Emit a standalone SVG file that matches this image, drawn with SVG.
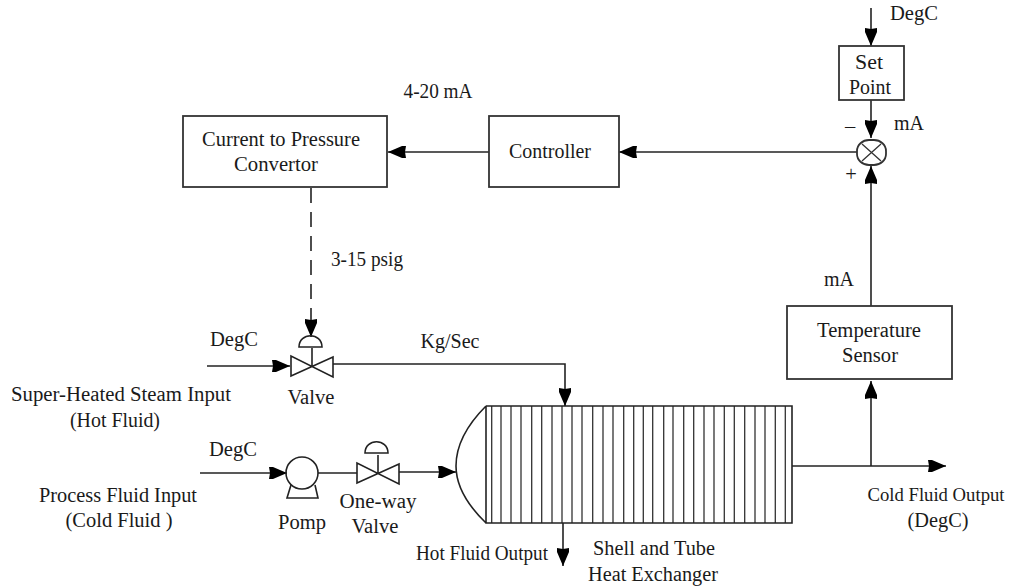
<svg xmlns="http://www.w3.org/2000/svg" width="1011" height="587" viewBox="0 0 1011 587">
<style>
text{font-family:"Liberation Serif","Times New Roman",serif;font-size:20.500px;fill:#1a1a1a;text-anchor:middle}
.l{fill:none;stroke:#222;stroke-width:1.6}
.t{fill:none;stroke:#333;stroke-width:1.3}
.b{fill:#fff;stroke:#333;stroke-width:1.8}
.a{marker-end:url(#ah)}
</style>
<defs>
<marker id="ah" markerUnits="userSpaceOnUse" markerWidth="20" markerHeight="16" refX="18" refY="8" orient="auto">
<path d="M0 2L4 2L18 8L4 14L0 14L1 8Z" fill="#000"/>
</marker>
</defs>
<rect width="1011" height="587" fill="#fff"/>
<g id="connectors">
<path class="l a" d="M871 8V46"/>
<path class="l a" d="M871 100V138"/>
<path class="l a" d="M871 306V166"/>
<path class="l a" d="M857 152H619"/>
<path class="l a" d="M489 152H388"/>
<path class="l a" d="M311 188V337" stroke-dasharray="15 9"/>
<path class="l a" d="M207 366H290"/>
<path class="l a" d="M333 364H565V406"/>
<path class="l a" d="M200 473H287"/>
<path class="l" d="M318 473H357"/>
<path class="l a" d="M399 472H456"/>
<path class="l a" d="M563 523V566"/>
<path class="l a" d="M792 466H946"/>
<path class="l a" d="M871 466V381"/>
</g>
<g id="setpoint"><rect class="b" x="839" y="46" width="65" height="54"/><text x="869" y="69" textLength="28" lengthAdjust="spacingAndGlyphs">Set</text><text x="870" y="94" textLength="42" lengthAdjust="spacingAndGlyphs">Point</text></g>
<g id="summer"><rect class="b" x="857" y="140" width="29" height="25" rx="12" ry="11"/><path class="t" d="M862 144L881 161M881 144L862 161"/></g>
<g id="controller"><rect class="b" x="489" y="116" width="130" height="71"/><text x="550" y="158" textLength="82" lengthAdjust="spacingAndGlyphs">Controller</text></g>
<g id="converter"><rect class="b" x="183" y="116" width="204" height="71"/><text x="281" y="146" textLength="158" lengthAdjust="spacingAndGlyphs">Current to Pressure</text><text x="276" y="171" textLength="84" lengthAdjust="spacingAndGlyphs">Convertor</text></g>
<g id="sensor"><rect class="b" x="787" y="306" width="165" height="73"/><text x="869" y="337" textLength="104" lengthAdjust="spacingAndGlyphs">Temperature</text><text x="870" y="362" textLength="56" lengthAdjust="spacingAndGlyphs">Sensor</text></g>
<g id="valve"><path class="l" d="M291 356V376L333 357V377ZM312 366V348M299 347C299 332 322 332 322 347Z"/></g>
<g id="oneway"><path class="l" d="M357 463V483L399 464V484ZM378 473V455M365 453C365 438 388 438 388 453Z"/></g>
<g id="pump"><circle class="l" cx="302" cy="473" r="16"/><path class="l" d="M291 485L287 498H318L315 485"/></g>
<g id="exchanger">
<path class="t" d="M491.700 406V523M501 406V523M511 406V523M521 406V523M531.700 406V523M541.700 406V523M552 406V523M562 406V523M572 406V523M582 406V523M592.700 406V523M603 406V523M613 406V523M623.700 406V523M633.700 406V523M643.300 406V523M652.700 406V523M663.700 406V523M673 406V523M683.700 406V523M693.700 406V523M704 406V523M714 406V523M724.300 406V523M734.300 406V523M744.700 406V523M755 406V523M765 406V523M775.300 406V523M785.300 406V523"/>
<path class="l" d="M486 406H792V523H486V406M486 406Q456 436 456 466Q456 494 486 523"/>
</g>
<g id="labels">
<text x="914" y="20" textLength="48" lengthAdjust="spacingAndGlyphs">DegC</text>
<text x="909" y="130" textLength="30" lengthAdjust="spacingAndGlyphs">mA</text>
<text x="850" y="133">–</text>
<text x="851" y="181">+</text>
<text x="438" y="98" textLength="69" lengthAdjust="spacingAndGlyphs">4-20 mA</text>
<text x="367" y="266" textLength="72" lengthAdjust="spacingAndGlyphs">3-15 psig</text>
<text x="839" y="286" textLength="30" lengthAdjust="spacingAndGlyphs">mA</text>
<text x="234" y="346" textLength="48" lengthAdjust="spacingAndGlyphs">DegC</text>
<text x="450" y="348" textLength="59" lengthAdjust="spacingAndGlyphs">Kg/Sec</text>
<text x="121" y="401" textLength="220" lengthAdjust="spacingAndGlyphs">Super-Heated Steam Input</text>
<text x="115" y="427" textLength="90" lengthAdjust="spacingAndGlyphs">(Hot Fluid)</text>
<text x="311" y="404" textLength="47" lengthAdjust="spacingAndGlyphs">Valve</text>
<text x="233" y="456" textLength="48" lengthAdjust="spacingAndGlyphs">DegC</text>
<text x="118" y="502" textLength="158" lengthAdjust="spacingAndGlyphs">Process Fluid Input</text>
<text x="119" y="527" textLength="107" lengthAdjust="spacingAndGlyphs">(Cold Fluid )</text>
<text x="302" y="529" textLength="48" lengthAdjust="spacingAndGlyphs">Pomp</text>
<text x="378" y="508" textLength="77" lengthAdjust="spacingAndGlyphs">One-way</text>
<text x="375" y="533" textLength="47" lengthAdjust="spacingAndGlyphs">Valve</text>
<text x="482" y="560" textLength="132" lengthAdjust="spacingAndGlyphs">Hot Fluid Output</text>
<text x="654" y="555" textLength="122" lengthAdjust="spacingAndGlyphs">Shell and Tube</text>
<text x="653" y="581" textLength="130" lengthAdjust="spacingAndGlyphs">Heat Exchanger</text>
<text x="936" y="501" style="font-size:19px" textLength="137" lengthAdjust="spacingAndGlyphs">Cold Fluid Output</text>
<text x="938" y="527" textLength="61" lengthAdjust="spacingAndGlyphs">(DegC)</text>
</g>
</svg>
